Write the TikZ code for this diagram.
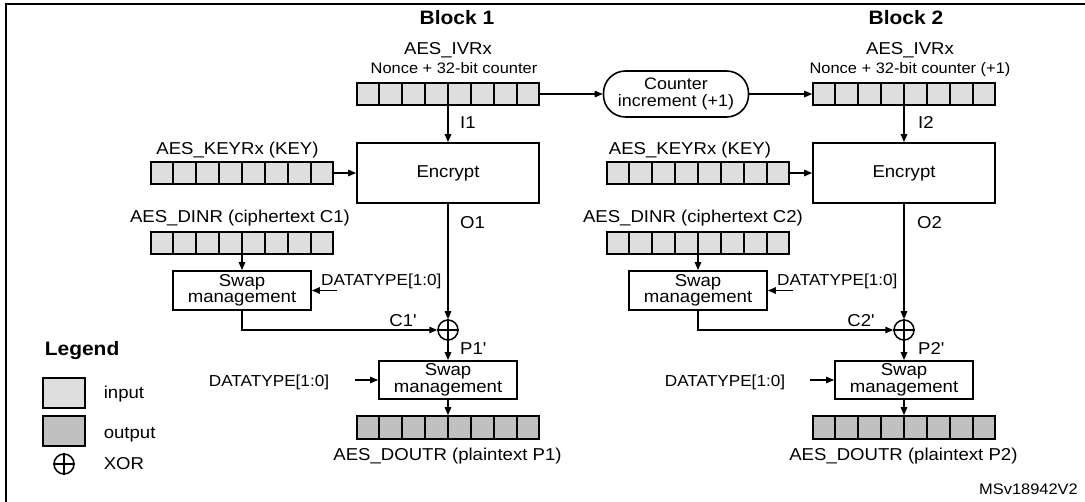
\documentclass[tikz,border=0pt]{standalone}
\usepackage{fontspec}
\setmainfont{Liberation Sans}[FakeStretch=1.08]
\usetikzlibrary{arrows.meta,calc}
\definecolor{inputgray}{RGB}{222,222,222}
\definecolor{outputgray}{RGB}{192,192,192}
\newcommand{\fsMain}{\fontsize{17.2}{16.5}\selectfont}
\newcommand{\fsSmall}{\fontsize{15.2}{16}\selectfont}
\newcommand{\fsDT}{\fontsize{15.9}{16}\selectfont}
\newcommand{\fsHead}{\fontsize{19.4}{20}\selectfont}
\newcommand{\regcells}[1]{%
  \foreach \i in {1,...,7}
    \draw[cellline] ($(#1.north west)!\i/8!(#1.north east)$) -- ($(#1.south west)!\i/8!(#1.south east)$);}
\tikzset{
  lbl/.style={inner sep=0, font=\fsMain},
  slbl/.style={inner sep=0, font=\fsSmall},
  dtlbl/.style={inner sep=0, font=\fsDT},
  hd/.style={inner sep=0, font=\fsHead\bfseries},
  reg/.style={draw, line width=1.6pt, fill=inputgray, minimum width=182pt, minimum height=22pt, inner sep=0},
  oreg/.style={reg, fill=outputgray, minimum height=23pt},
  cellline/.style={line width=1.5pt},
  box/.style={draw, line width=1.8pt, fill=white, inner sep=0, align=center, font=\fsMain},
  conn/.style={line width=1.3pt, -{Triangle[length=8pt,width=6.5pt]}},
  xorn/.style={draw, circle, line width=1.5pt, minimum size=20pt, inner sep=0},
  swatch/.style={draw, line width=1.7pt, minimum width=42pt, minimum height=30pt, inner sep=0},
}
\begin{document}
\begin{tikzpicture}[x=1pt,y=-1pt]
\useasboundingbox (0,0) rectangle (1085,502);
% frame
\draw[line width=2.2pt] (6,510) -- (6,4) -- (1095,4);

% ---------- Block 1 ----------
\node[hd, anchor=base] (h1) at (457,25) {Block 1};
\node[lbl, anchor=base] (ivl1) at (448,54.5) {AES\_IVRx};
\node[slbl, anchor=base] (nl1) at (454,73.5) {Nonce + 32-bit counter};
\node[reg] (iv1) at (448,94) {};
\regcells{iv1}
\node[box, minimum width=182pt, minimum height=60pt] (enc1) at (448,173) {Encrypt};
\node[lbl, anchor=base] (kl1) at (237.5,155) {AES\_KEYRx (KEY)};
\node[reg] (key1) at (242,173) {};
\regcells{key1}
\node[lbl, anchor=base] (dl1) at (240,223) {AES\_DINR (ciphertext C1)};
\node[reg] (din1) at (242,243) {};
\regcells{din1}
\node[box, minimum width=138pt, minimum height=39pt] (sw1) at (242,290.5) {Swap\\management};
\node[dtlbl, anchor=base west] (dt1) at (321,286) {DATATYPE[1:0]};
\coordinate (dt1s) at (337,290.5);
\node[xorn] (x1) at (448,330) {};
\draw[line width=1.5pt] (x1.north) -- (x1.south) (x1.west) -- (x1.east);
\node[box, minimum width=138pt, minimum height=38pt] (sw2) at (448,380) {Swap\\management};
\node[dtlbl, anchor=base] (dt2) at (269,386.5) {DATATYPE[1:0]};
\coordinate (dt2s) at (354.6,380);
\node[oreg] (out1) at (448,427.5) {};
\regcells{out1}
\node[lbl, anchor=base] (ol1) at (447.5,460.5) {AES\_DOUTR (plaintext P1)};
\node[lbl, anchor=base west] (i1) at (460,129) {I1};
\node[lbl, anchor=base west] (o1) at (460,228.5) {O1};
\node[lbl, anchor=base] (c1) at (403,327) {C1\textquotesingle};
\node[lbl, anchor=base west] (p1) at (460,355) {P1\textquotesingle};

\draw[conn] (iv1.south) -- (enc1.north);
\draw[conn] (key1.east) -- (enc1.west);
\draw[conn] (enc1.south) -- (x1.north);
\draw[conn] (din1.south) -- (sw1.north);
\draw[conn] (dt1s) -- (sw1.east);
\draw[conn] (sw1.south) |- (x1.west);
\draw[conn] (x1.south) -- (sw2.north);
\draw[conn] (dt2s) -- (sw2.west);
\draw[conn] (sw2.south) -- (out1.north);

% ---------- counter ----------
\node[draw, line width=1.6pt, rounded corners=22pt, minimum width=145pt, minimum height=46pt, inner sep=0, align=center, font=\fontsize{16.6}{16.5}\selectfont] (cnt) at (676,94) {Counter\\increment (+1)};

% ---------- Block 2 ----------
\node[hd, anchor=base] (h2) at (906,25) {Block 2};
\node[lbl, anchor=base] (ivl2) at (910,54.5) {AES\_IVRx};
\node[slbl, anchor=base] (nl2) at (910,73.5) {Nonce + 32-bit counter (+1)};
\node[reg] (iv2) at (904,94) {};
\regcells{iv2}
\node[box, minimum width=182pt, minimum height=60pt] (enc2) at (904,173) {Encrypt};
\node[lbl, anchor=base] (kl2) at (690,155) {AES\_KEYRx (KEY)};
\node[reg] (key2) at (698,173) {};
\regcells{key2}
\node[lbl, anchor=base] (dl2) at (693,223) {AES\_DINR (ciphertext C2)};
\node[reg] (din2) at (698,243) {};
\regcells{din2}
\node[box, minimum width=138pt, minimum height=39pt] (sw3) at (698,290.5) {Swap\\management};
\node[dtlbl, anchor=base west] (dt3) at (777,286) {DATATYPE[1:0]};
\coordinate (dt3s) at (793,290.5);
\node[xorn] (x2) at (904,330) {};
\draw[line width=1.5pt] (x2.north) -- (x2.south) (x2.west) -- (x2.east);
\node[box, minimum width=138pt, minimum height=38pt] (sw4) at (904,380) {Swap\\management};
\node[dtlbl, anchor=base] (dt4) at (725,386.5) {DATATYPE[1:0]};
\coordinate (dt4s) at (810.4,380);
\node[oreg] (out2) at (904,427.5) {};
\regcells{out2}
\node[lbl, anchor=base] (ol2) at (903.4,460.5) {AES\_DOUTR (plaintext P2)};
\node[lbl, anchor=base west] (i2) at (918,129) {I2};
\node[lbl, anchor=base west] (o2) at (917,228.5) {O2};
\node[lbl, anchor=base] (c2) at (861,327) {C2\textquotesingle};
\node[lbl, anchor=base west] (p2) at (918,355) {P2\textquotesingle};

\draw[conn] (iv2.south) -- (enc2.north);
\draw[conn] (key2.east) -- (enc2.west);
\draw[conn] (enc2.south) -- (x2.north);
\draw[conn] (din2.south) -- (sw3.north);
\draw[conn] (dt3s) -- (sw3.east);
\draw[conn] (sw3.south) |- (x2.west);
\draw[conn] (x2.south) -- (sw4.north);
\draw[conn] (dt4s) -- (sw4.west);
\draw[conn] (sw4.south) -- (out2.north);

\draw[conn] (iv1.east) -- (cnt.west);
\draw[conn] (cnt.east) -- (iv2.west);

% ---------- Legend ----------
\node[hd, anchor=base west] (leg) at (44.6,356) {Legend};
\node[swatch, fill=inputgray] (swin) at (64,393) {};
\node[lbl, anchor=base west] (tin) at (103.6,399) {input};
\node[swatch, fill=outputgray] (swout) at (64,431) {};
\node[lbl, anchor=base west] (tout) at (103.6,439) {output};
\node[draw, circle, line width=1.5pt, minimum size=20pt, inner sep=0] (lx) at (64,464) {};
\draw[line width=1.5pt] (lx.north) -- (lx.south) (lx.west) -- (lx.east);
\node[lbl, anchor=base west] (txor) at (103.6,470) {XOR};

\node[slbl, anchor=base east] (ms) at (1078,494.5) {MSv18942V2};
\end{tikzpicture}
\end{document}
